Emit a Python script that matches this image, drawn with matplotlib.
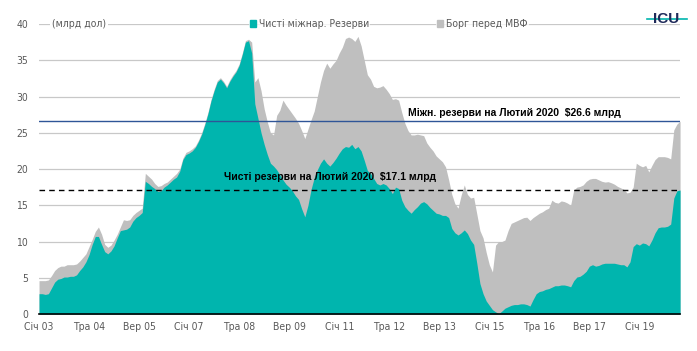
import matplotlib
matplotlib.use("Agg")
import matplotlib.pyplot as plt
from matplotlib import font_manager
from matplotlib.patches import Patch
from matplotlib.lines import Line2D

# monthly data, Jan 2003 .. Feb 2020, bn USD
gross_reserves = [
    4.6, 4.6, 4.6, 4.7, 5.3, 6.0, 6.4, 6.6, 6.6, 6.8, 6.8, 6.8,
    6.9, 7.3, 7.8, 8.3, 9.3, 10.3, 11.4, 12.0, 11.0, 9.6, 9.2, 9.5,
    10.2, 11.0, 12.0, 13.0, 12.9, 13.0, 13.6, 14.0, 14.3, 14.6, 19.4, 19.0,
    18.6, 18.0, 17.6, 17.7, 18.0, 18.2, 18.6, 19.0, 19.4, 20.0, 21.5, 22.3,
    22.5, 22.8, 23.2, 24.0, 25.0, 26.3, 27.8, 29.6, 31.0, 32.2, 32.6, 32.1,
    31.4, 32.3, 33.0, 33.6, 34.5, 36.0, 37.7, 37.9, 37.5, 32.0, 32.6, 30.8,
    28.3, 26.5, 25.0, 24.7, 27.4, 28.1, 29.5, 28.8, 28.2, 27.6, 27.0, 26.3,
    25.3, 24.2, 25.5, 26.8, 28.0, 30.0, 32.0, 33.6, 34.6, 33.9, 34.5, 35.0,
    36.0, 36.8, 38.0, 38.2, 38.0, 37.6, 38.3, 37.0, 35.0, 33.0, 32.4, 31.4,
    31.2, 31.3, 31.5, 31.0, 30.4, 29.6, 29.7, 29.5, 27.8, 26.3, 25.3, 24.7,
    24.7, 24.8, 24.7, 24.6, 23.6, 23.0, 22.5, 21.8, 21.4, 21.0, 20.3, 18.5,
    16.5, 15.2, 14.6, 16.4, 17.8, 16.5, 16.0, 16.1, 13.8, 11.5, 10.5, 8.5,
    6.8, 5.8, 9.5, 10.0, 10.0, 10.2, 11.5, 12.5, 12.7, 12.9, 13.1, 13.3,
    13.35, 12.9, 13.3, 13.6, 13.9, 14.1, 14.4, 14.6, 15.7, 15.4, 15.3, 15.6,
    15.5, 15.3, 15.0, 17.1, 17.5, 17.6, 17.8, 18.3, 18.6, 18.7, 18.7, 18.5,
    18.3, 18.2, 18.25, 18.1, 17.9, 17.6, 17.4, 17.2, 16.7, 16.8, 17.5, 20.8,
    20.5, 20.3, 20.5, 19.6, 20.5, 21.3, 21.7, 21.7, 21.7, 21.6, 21.4, 25.4,
    26.2, 26.6,
]
net_reserves = [
    2.8, 2.8, 2.7, 2.8, 3.6, 4.4, 4.8, 4.9, 5.1, 5.1, 5.2, 5.2,
    5.4, 6.0, 6.5, 7.2, 8.2, 9.6, 10.7, 10.7, 9.6, 8.6, 8.3, 8.7,
    9.4, 10.5, 11.5, 11.6, 11.7, 12.0, 12.8, 13.3, 13.6, 14.0, 18.3, 18.0,
    17.6, 17.3, 16.9, 17.0, 17.5, 17.8, 18.2, 18.6, 18.9, 19.7, 21.3, 22.0,
    22.2, 22.5, 23.0, 23.8, 24.8, 26.1, 27.6, 29.4, 30.8, 32.0, 32.4, 31.9,
    31.2, 32.1, 32.8, 33.4, 34.3, 35.8, 37.5, 37.7, 36.0, 29.0, 27.0, 25.0,
    23.4, 22.0, 20.8, 20.4, 19.9, 19.2, 18.5, 17.9, 17.5, 17.0, 16.3, 15.8,
    14.5, 13.4, 15.0, 17.2, 18.8, 19.9, 20.8, 21.4, 20.8, 20.4, 20.9, 21.5,
    22.2, 22.8, 23.1, 23.0, 23.4, 22.8, 23.1, 22.5, 21.2, 19.8, 19.4, 18.7,
    18.0, 17.8, 18.0, 17.8, 17.3, 16.6, 17.5, 17.3, 15.7, 14.8, 14.3, 13.9,
    14.4, 14.8, 15.3, 15.5, 15.2, 14.7, 14.3, 13.9, 13.8, 13.6, 13.6, 13.3,
    11.8, 11.2, 10.9, 11.2, 11.6, 11.1, 10.2, 9.6, 7.0, 4.2, 2.8, 1.8,
    1.2, 0.6, 0.3, 0.05, 0.4, 0.8, 1.0, 1.2, 1.3, 1.3, 1.4, 1.4,
    1.3, 1.1, 2.0, 2.8, 3.1, 3.2, 3.4, 3.5, 3.7, 3.9, 3.9, 4.0,
    4.0, 3.9, 3.75, 4.6, 5.1, 5.2, 5.5, 5.9, 6.6, 6.8, 6.6, 6.7,
    6.9, 7.0, 7.0, 7.0, 7.0, 6.9, 6.8, 6.8, 6.5, 7.2, 9.3, 9.7,
    9.5, 9.8, 9.7, 9.4, 10.2, 11.2, 11.9, 12.0, 12.0, 12.1, 12.4, 16.0,
    17.0, 17.1,
]
tick_months = [0, 16, 32, 48, 64, 80, 96, 112, 128, 144, 160, 176, 192]
tick_labels = ["Січ 03", "Тра 04", "Вер 05", "Січ 07", "Тра 08", "Вер 09", "Січ 11",
               "Тра 12", "Вер 13", "Січ 15", "Тра 16", "Вер 17", "Січ 19"]
gross_last = 26.6
net_last = 17.1

TEAL = "#00B5AE"
GREY = "#BFBFBF"
LABEL = "#595959"

# condensed face for the small grey labels, if one is on the system
names = {f.name for f in font_manager.fontManager.ttflist}
if "Liberation Sans Narrow" in names:
    small = font_manager.FontProperties(family="Liberation Sans Narrow", size=8)
else:
    small = font_manager.FontProperties(family="DejaVu Sans", stretch="condensed", size=7.5)

months = list(range(len(gross_reserves)))

fig = plt.figure(figsize=(6.97, 3.51), dpi=100)
ax = fig.add_axes([0.056, 0.1054, 0.9197, 0.8262])

ax.fill_between(months, 0, gross_reserves, color=GREY, lw=0, zorder=2)
ax.fill_between(months, 0, net_reserves, color=TEAL, lw=0, zorder=3)

# reference lines
ax.axhline(gross_last, color="#2F5597", lw=1, zorder=4)
ax.axhline(net_last, color="black", lw=1, ls=(0, (4, 3)), zorder=4)
ax.text(118, gross_last + 0.4, f"Міжн. резерви на Лютий 2020  ${gross_last} млрд",
        fontsize=7.5, fontweight="bold", family="Liberation Sans", va="bottom", zorder=5)
ax.text(59, net_last + 1.1, f"Чисті резерви на Лютий 2020  ${net_last} млрд",
        fontsize=7.5, fontweight="bold", family="Liberation Sans", va="bottom", zorder=5)

ax.set_xlim(0, len(months) - 1)
ax.set_ylim(0, 40)
ax.set_yticks(range(0, 41, 5))
ax.set_xticks(tick_months)
ax.set_xticklabels(tick_labels)
ax.grid(axis="y", color="#C8C8C8", lw=0.9, zorder=0)
ax.set_axisbelow(True)
for side in ["top", "right", "left"]:
    ax.spines[side].set_visible(False)
ax.spines["bottom"].set_color("black")
ax.spines["bottom"].set_linewidth(1.2)
ax.spines["bottom"].set_zorder(6)
ax.tick_params(axis="both", length=0, colors=LABEL)
ax.tick_params(axis="y", pad=8)
ax.tick_params(axis="x", pad=6)
for lab in ax.get_xticklabels() + ax.get_yticklabels():
    lab.set_fontproperties(small)

ax.text(4.2, 40, "(млрд дол)", color=LABEL, fontproperties=small, va="center",
        bbox=dict(facecolor="white", edgecolor="none", pad=1.5), zorder=5)

# legend entries placed separately on the top gridline
leg1 = ax.legend(handles=[Patch(color=TEAL, label="Чисті міжнар. Резерви")],
                 loc="center left", bbox_to_anchor=(0.319, 1.0), frameon=True,
                 handlelength=0.6, handleheight=0.6, handletextpad=0.3,
                 borderpad=0.1, prop=small)
leg1.get_frame().set_edgecolor("none")
leg1.get_texts()[0].set_color(LABEL)
ax.add_artist(leg1)
leg2 = ax.legend(handles=[Patch(color=GREY, label="Борг перед МВФ")],
                 loc="center left", bbox_to_anchor=(0.611, 1.0), frameon=True,
                 handlelength=0.6, handleheight=0.6, handletextpad=0.3,
                 borderpad=0.1, prop=small)
leg2.get_frame().set_edgecolor("none")
leg2.get_texts()[0].set_color(LABEL)

# ICU logo
fig.text(0.956, 0.947, "ICU", fontsize=11, fontweight="bold", color="#1F2A5A",
         ha="center", va="center", family="Liberation Sans")
fig.add_artist(Line2D([0.928, 0.985], [0.947, 0.947], color=TEAL, lw=1.2, zorder=0))

fig.savefig("out.png", dpi=100)
